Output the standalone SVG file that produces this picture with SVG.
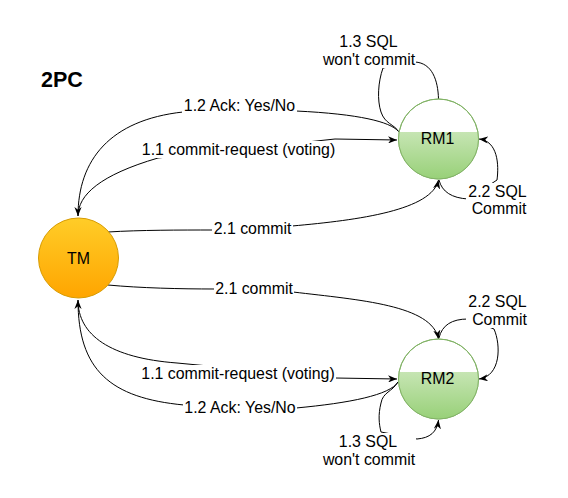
<svg xmlns="http://www.w3.org/2000/svg" width="568" height="498" viewBox="0 0 568 498">
<style>
text{font-family:"Liberation Sans",Arial,Helvetica,sans-serif;fill:#000;}
.lbl{font-size:15.9px;text-anchor:middle;}
.edge{fill:none;stroke:#000;stroke-width:1;}
.arr{marker-end:url(#ah);}
.bg{fill:#fff;}
.rm{fill:#fff;stroke:#82b366;stroke-width:1;}
</style>
<defs>
<marker id="ah" viewBox="0 0 10 8" refX="10" refY="4" markerWidth="9" markerHeight="7.2" markerUnits="userSpaceOnUse" orient="auto">
<path d="M0,0 L10,4 L0,8 L3,4 Z" fill="#000"/>
</marker>
<linearGradient id="gTM" x1="0" y1="0" x2="0" y2="1">
<stop offset="0" stop-color="#ffcd28"/>
<stop offset="1" stop-color="#ffa500"/>
</linearGradient>
<linearGradient id="gRM" x1="0" y1="0" x2="0" y2="1">
<stop offset="0" stop-color="#c6e5b3"/>
<stop offset="1" stop-color="#97d077"/>
</linearGradient>
<clipPath id="c1"><circle cx="438.5" cy="139" r="40"/></clipPath>
<clipPath id="c2"><circle cx="438.5" cy="379" r="40"/></clipPath>
</defs>

<rect width="568" height="498" fill="#fff"/>

<text x="41" y="87" font-size="21.5" font-weight="bold">2PC</text>

<g id="connectors">
<!-- top 1.2 Ack: RM1 -> TM -->
<path class="edge arr" d="M398,131 C390,122 360,114 296,111 L183,112 C110,120 78,160 78,216"/>
<!-- top 1.1 commit-request: TM -> RM1 -->
<path class="edge arr" d="M78,216 C78,195 100,175 158,158 L335,139 L397,140"/>
<!-- top 1.3 loop -->
<path class="edge" d="M438.5,99 C438,80 432,63 415,62 L383,68 C378,82 377,100 381,112 C385,124 394,124 399,132"/>
<!-- top 2.1 commit: TM -> RM1 -->
<path class="edge arr" d="M108,232 C140,230 180,230 213,230 L292,226 C360,220 432,210 438.5,180"/>
<!-- top 2.2 loop -->
<path class="edge arr" d="M439,180 C442,192 452,198 468,199 L497,180 C499,165 498,141 479,139"/>
<!-- bottom 2.1 commit: TM -> RM2 -->
<path class="edge arr" d="M108,285 C140,288 180,289 215,289 L293,292 C360,300 432,305 438.5,339"/>
<!-- bottom 2.2 loop -->
<path class="edge arr" d="M439,338 C442,325 452,319 468,319 L494,329 C501,345 501,376 479,379"/>
<!-- bottom 1.1 commit-request: TM -> RM2 -->
<path class="edge arr" d="M78,300 C78,335 110,358 177,363 L335,378 L397,379"/>
<!-- bottom 1.2 Ack: RM2 -> TM -->
<path class="edge arr" d="M398,382 C390,395 350,403 296,408 L184,405 C110,398 78,370 78,300"/>
<!-- bottom 1.3 loop -->
<path class="edge arr" d="M398,382 C392,392 383,392 381,403 C378,415 379,424 381,432 L417,439 C430,438 437,432 438.5,420"/>
</g>

<g id="labels">
<rect class="bg" x="182" y="98" width="115" height="16"/>
<text class="lbl" x="239.5" y="111">1.2 Ack: Yes/No</text>
<rect class="bg" x="141" y="141" width="195" height="17"/>
<text class="lbl" x="238.5" y="154.5">1.1 commit-request (voting)</text>
<rect class="bg" x="212" y="221" width="81" height="16"/>
<text class="lbl" x="252.5" y="234">2.1 commit</text>
<rect class="bg" x="214" y="281" width="80" height="16"/>
<text class="lbl" x="254" y="294">2.1 commit</text>
<rect class="bg" x="141" y="365" width="195" height="17"/>
<text class="lbl" x="238" y="379">1.1 commit-request (voting)</text>
<rect class="bg" x="183" y="400" width="114" height="16"/>
<text class="lbl" x="240" y="413">1.2 Ack: Yes/No</text>
<rect class="bg" x="322" y="33" width="94" height="35"/>
<text class="lbl" x="368.5" y="47">1.3 SQL</text>
<text class="lbl" x="369" y="65">won't commit</text>
<rect class="bg" x="466" y="183" width="62" height="34"/>
<text class="lbl" x="497.5" y="197">2.2 SQL</text>
<text class="lbl" x="499" y="214">Commit</text>
<rect class="bg" x="466" y="293" width="62" height="35"/>
<text class="lbl" x="497.5" y="307">2.2 SQL</text>
<text class="lbl" x="499.5" y="325">Commit</text>
<rect class="bg" x="322" y="433" width="94" height="35"/>
<text class="lbl" x="368" y="447">1.3 SQL</text>
<text class="lbl" x="369" y="465">won't commit</text>
</g>

<g id="TM">
<circle cx="78.5" cy="258" r="40" fill="url(#gTM)" stroke="#d79b00" stroke-width="1"/>
<text class="lbl" x="78.5" y="264">TM</text>
</g>

<g id="RM1">
<circle class="rm" cx="438.5" cy="139" r="40"/>
<rect x="398" y="132" width="81" height="48" fill="url(#gRM)" clip-path="url(#c1)"/>
<circle cx="438.5" cy="139" r="40" fill="none" stroke="#82b366"/>
<text class="lbl" x="437.5" y="144">RM1</text>
</g>

<g id="RM2">
<circle class="rm" cx="438.5" cy="379" r="40"/>
<rect x="398" y="372" width="81" height="48" fill="url(#gRM)" clip-path="url(#c2)"/>
<circle cx="438.5" cy="379" r="40" fill="none" stroke="#82b366"/>
<text class="lbl" x="437.5" y="384">RM2</text>
</g>
</svg>
